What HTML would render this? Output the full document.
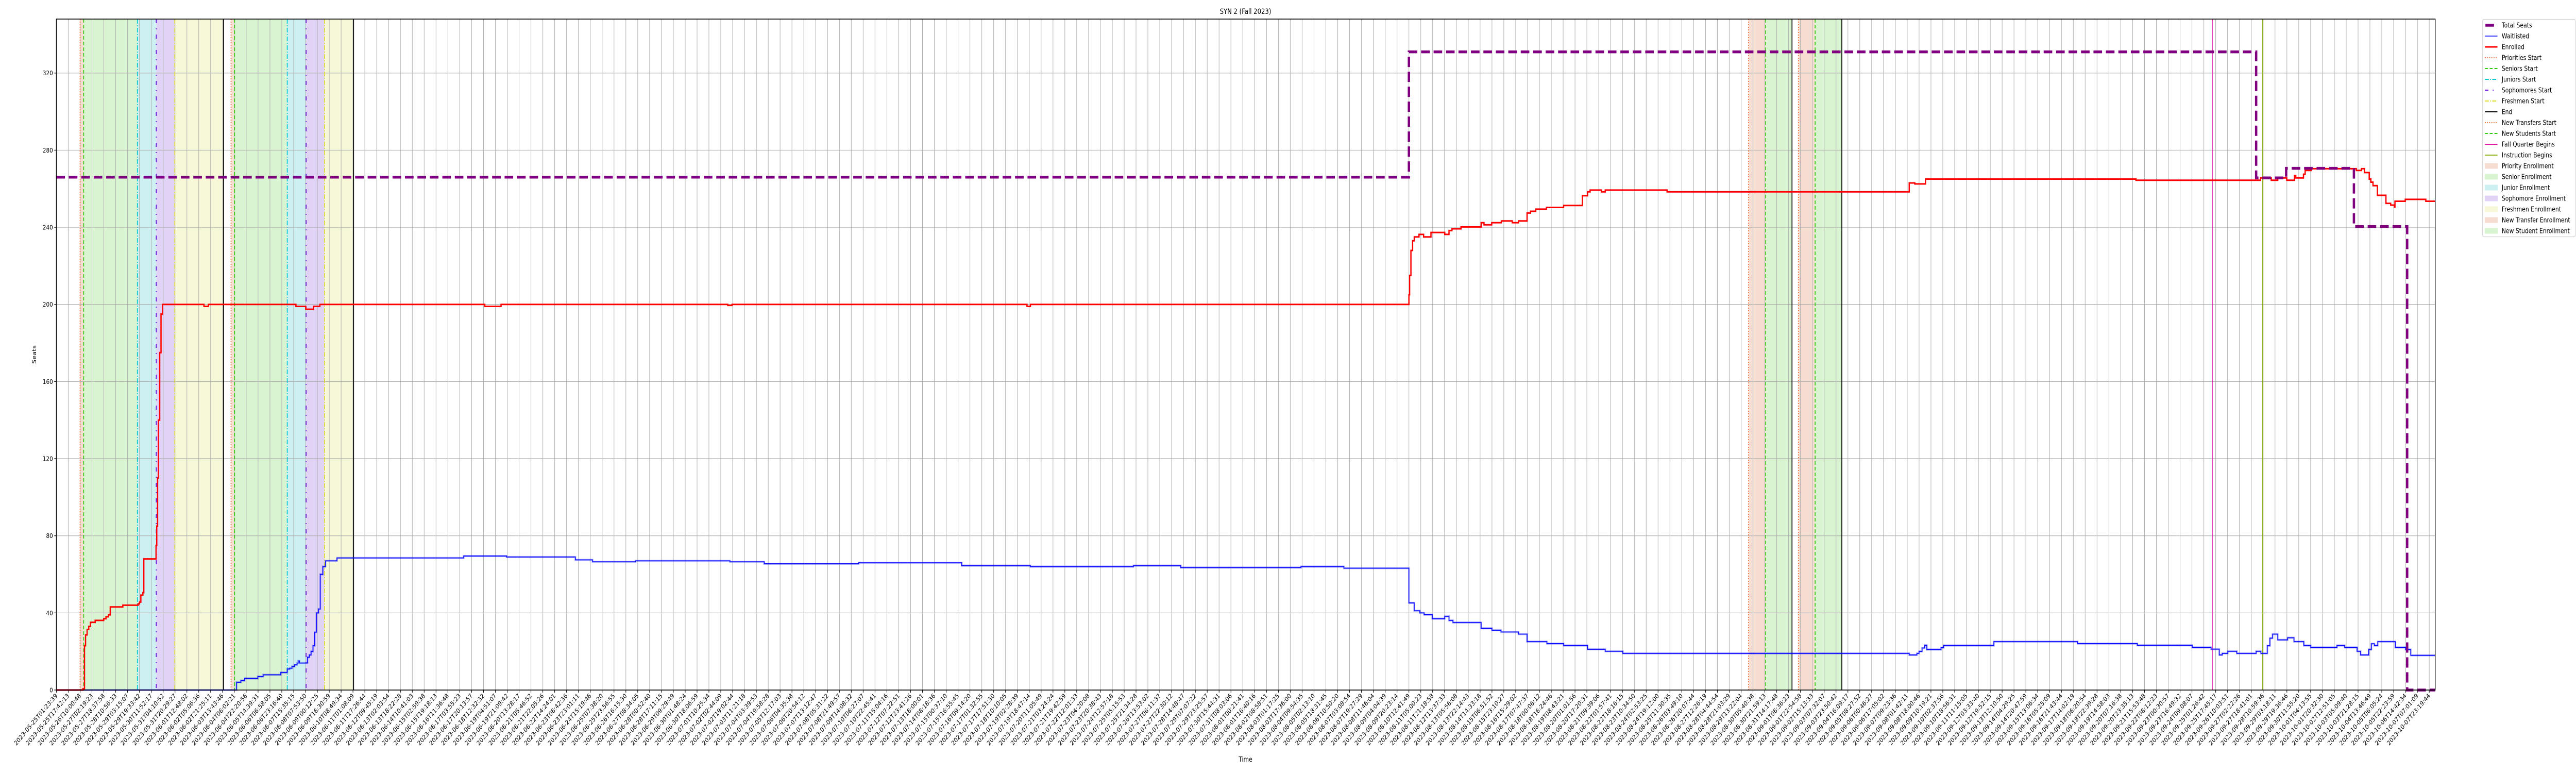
<!DOCTYPE html>
<html><head><meta charset="utf-8">
<style>
html,body{margin:0;padding:0;background:#fff;width:100%;height:100%;overflow:hidden;}
svg{display:block;width:100vw;height:100vh;font-family:"DejaVu Sans","Liberation Sans",sans-serif;}
</style></head>
<body>
<svg id="chart" xmlns="http://www.w3.org/2000/svg" viewBox="0 0 6000 1500" preserveAspectRatio="none">
<rect x="0" y="0" width="6000" height="1500" fill="#fff"/>
<g id="spans"></g>
<g id="grid"></g>
<g id="events"></g>
<g id="series"></g>
<rect x="131.3" y="37" width="5540.7" height="1302" fill="none" stroke="#000" stroke-width="1.6"/>
<g id="axes"></g>
<text x="2901" y="27" font-size="14" text-anchor="middle">SYN 2 (Fall 2023)</text>
<text x="2901" y="1478" font-size="13" text-anchor="middle">Time</text>
<text x="0" y="0" font-size="13" text-anchor="middle" transform="translate(84,688) rotate(-90)">Seats</text>
<g id="legend"></g>
</svg>
<script>
// ---- data (x in sample-index units, tick every 10 samples) ----
const seatsIdx = [0, 1140.0, 1854.1, 1879.4, 1936.5, 1981.4];
const seatsVal = [266, 331, 265.6, 270.6, 240.4, 0];

const enrolledIdx = [0,22.3,23.7,24.6,25.9,27.3,28.7,32.7,39.9,41.8,43.9,45.4,56.0,68.9,70.1,71.2,72.9,73.7,84.0,84.6,85.3,86.0,87.1,88.2,89.6,124.4,128.1,201.9,210.2,216.7,222.1,361.1,374.8,565.9,569.5,818.1,821.0,1140.0,1140.6,1141.7,1143.1,1144.5,1148.5,1152.4,1158.6,1170.2,1173.8,1176.3,1183.9,1200.9,1203.3,1209.8,1217.9,1227.1,1232.4,1239.6,1242.5,1246.9,1255.9,1270.4,1286.2,1290.6,1292.7,1302.2,1305.5,1357.6,1561.7,1566.4,1575.4,1752.8,1857.8,1866.8,1872.3,1879.9,1886.4,1887.5,1894.0,1895.4,1900.5,1938.5,1942.9,1945.4,1949.4,1950.8,1952.6,1956.3,1963.5,1967.5,1970.7,1971.1,1979.8,1997.1];
const enrolledVal = [0,0.6,23,28.6,31.4,33,35.1,36.1,37,38,39,43.1,44,44.7,45.6,49.2,50.5,68,75,85,110,140,175,195,200,199,200,199,197.5,199,200,199,200,199.5,200,199,200,205,215,228,233,235,236.3,235,237.3,236.3,238.3,239.2,240.2,242.4,241.3,242.4,243.3,242.4,243.3,247.4,248.3,249.4,250.3,251.3,256.4,258.4,259.3,258.4,259.3,258.4,263,262.5,265,264.4,265.6,264.4,265.6,264.4,266.8,265.6,267.5,269.5,270.4,269.5,270.4,268.4,265,263.4,261.6,256.6,252.4,251.5,250.5,253.5,254.5,253.5];

const waitIdx = [0,150.2,151.9,155.5,158.6,169.8,174.3,189.1,194.6,196.6,198.6,200.7,202.9,203.8,204.9,211.6,213.2,214.7,216.3,217.7,219.2,221.0,222.4,224.6,226.8,236.5,343.3,379.5,437.4,451.9,488.1,567.7,596.6,676.2,763.1,821.0,907.8,947.7,1049.0,1085.2,1140.0,1144.5,1149.2,1152.8,1159.7,1170.2,1173.8,1177.1,1200.9,1210.0,1217.6,1232.4,1239.6,1256.3,1270.4,1290.6,1305.5,1320.3,1561.7,1568.2,1570.0,1572.5,1574.7,1576.5,1588.5,1590.7,1633.0,1703.6,1753.9,1800.2,1816.1,1823.0,1825.5,1830.2,1837.8,1854.1,1858.1,1863.5,1865.7,1867.9,1872.3,1880.6,1886.0,1894.3,1900.1,1922.2,1928.7,1939.2,1942.1,1949.0,1951.2,1953.7,1956.6,1971.4,1980.1,1984.4];
const waitVal = [0,0,4.0,4.9,6.0,7.0,7.9,9.1,10.9,11.3,12.2,13.1,14.0,15.1,14,17,18.2,20,23,30,40,42,60,64,67,68.5,69.5,69,67.5,66.5,67,66.5,65.5,66,64.5,64,64.5,63.5,64,63.2,45.2,41.1,40,39.1,37,38.2,36.1,35,32,31,30.1,29,25.1,24.1,23.1,21.1,20.1,19,18.2,19,20,21.8,23.2,21,22,23.1,25.1,24.1,23.2,22.1,21.2,18.2,19,20.1,19,20.1,19,23,26.9,29,26,27.1,25.1,23.1,22.1,23.1,22.1,20.1,18.2,21,24,23.1,25.1,22.1,21,18];

const yTicks = [0,40,80,120,160,200,240,280,320];

// event lines
const eventNames = ["priorities-start","seniors-start","juniors-start","sophomores-start","freshmen-start","end",
  "priorities-start","seniors-start","juniors-start","sophomores-start","freshmen-start","end",
  "new-transfers-start","new-students-start","end","new-transfers-start","new-students-start","end",
  "fall-quarter-begins","instruction-begins"];
const eventIdx = [20.0,23.0,68.3,84.2,99.8,140.9, 147.2,150.2,194.6,210.5,226.1,250.5, 1426.3,1440.7,1462.9,1468.4,1482.4,1504.9, 1817.1,1859.6];
const eventKind = ["pri","sen","jun","soph","fresh","end","pri","sen","jun","soph","fresh","end","pri","sen","end","pri","sen","end","fall","instr"];

// shaded periods
const spanStart = [20.0,23.0,68.3,84.2,99.8, 147.2,150.2,194.6,210.5,226.1, 1426.3,1440.7,1468.4,1482.4];
const spanEnd   = [23.0,68.3,84.2,99.8,140.9, 150.2,194.6,210.5,226.1,250.5, 1440.7,1462.9,1482.4,1504.9];
const spanKind  = ["pri","sen","jun","soph","fresh","pri","sen","jun","soph","fresh","pri","sen","pri","sen"];

// tick labels: first/last; the rest estimated evenly between them
const tickCount = 201;
const tickStart = Date.UTC(2023,4,25,1,23,39);
const tickEnd = Date.UTC(2023,9,7,23,19,44);
const tickLabels = [];
for (let i=0;i<tickCount;i++){
  const d = new Date(tickStart + (tickEnd-tickStart)*i/(tickCount-1));
  const p = n=>String(n).padStart(2,'0');
  tickLabels.push(d.getUTCFullYear()+'-'+p(d.getUTCMonth()+1)+'-'+p(d.getUTCDate())+'T'+p(d.getUTCHours())+':'+p(d.getUTCMinutes())+':'+p(d.getUTCSeconds()));
}
// ---- scales ----
const X0=131.3, X1=5672, Y0=1339, Y1=37, XMAX=2005, YMAX=348;
const sx = v => X0 + v*(X1-X0)/XMAX;
const sy = v => Y0 - v*(Y0-Y1)/YMAX;
const NS="http://www.w3.org/2000/svg";
function mk(tag, attrs, parent){const e=document.createElementNS(NS,tag);for(const k in attrs)e.setAttribute(k,attrs[k]);parent.appendChild(e);return e;}

const spanColor={pri:"#f6ddd2",sen:"#d9f4d1",jun:"#cdf0f2",soph:"#e0d3f5",fresh:"#f6f8d8"};
const evStyle={
  pri:{c:"#ee6a2c",d:"2,3",w:2},
  sen:{c:"#33cc11",d:"7,4",w:2},
  jun:{c:"#00c8d2",d:"9,3,2,3",w:2},
  soph:{c:"#6a1fd8",d:"8,10,2,10",w:2.2},
  fresh:{c:"#dede22",d:"9,3,2,3",w:2},
  end:{c:"#000",d:"",w:2},
  fall:{c:"#e0189f",d:"",w:2},
  instr:{c:"#90b21e",d:"",w:2}
};

const spans=document.getElementById('spans');
for(let i=0;i<spanStart.length;i++){
  const r=mk('rect',{x:sx(spanStart[i]),y:Y1,width:sx(spanEnd[i])-sx(spanStart[i]),height:Y0-Y1,fill:spanColor[spanKind[i]]},spans);
  
  
}

const grid=document.getElementById('grid');
const axes=document.getElementById('axes');
for(let i=0;i<tickCount;i++){
  const x=sx(i*10);
  const gl=mk('line',{x1:x,x2:x,y1:Y1,y2:Y0,stroke:"#b0b0b0","stroke-width":1.2},grid);
  
  
  mk('line',{x1:x,x2:x,y1:Y0,y2:Y0+5,stroke:"#000","stroke-width":1.2},axes);
  const t=mk('text',{x:0,y:0,"font-size":12.5,"text-anchor":"end",transform:`translate(${x+3},${Y0+12}) rotate(-45)`},axes);
  t.textContent=tickLabels[i];
  
  
}
yTicks.forEach(v=>{
  const y=sy(v);
  const gl=mk('line',{x1:X0,x2:X1,y1:y,y2:y,stroke:"#b0b0b0","stroke-width":1.2},grid);
  
  
  mk('line',{x1:X0-5,x2:X0,y1:y,y2:y,stroke:"#000","stroke-width":1.2},axes);
  const t=mk('text',{x:X0-8,y:y+4.5,"font-size":12.5,"text-anchor":"end"},axes);
  t.textContent=String(v);
  
  
});

const events=document.getElementById('events');
for(let i=0;i<eventIdx.length;i++){
  const s=evStyle[eventKind[i]];const x=sx(eventIdx[i]);
  const l=mk('line',{x1:x,x2:x,y1:Y1,y2:Y0,stroke:s.c,"stroke-width":s.w},events);
  if(s.d)l.setAttribute('stroke-dasharray',s.d);
  
  
}

function stepPath(xs,ys){
  let d=`M${sx(xs[0])},${sy(ys[0])}`;
  for(let i=1;i<xs.length;i++){d+=`L${sx(xs[i])},${sy(ys[i-1])}L${sx(xs[i])},${sy(ys[i])}`;}
  d+=`L${sx(XMAX)},${sy(ys[ys.length-1])}`;
  return d;
}
const series=document.getElementById('series');
const wh=mk('path',{d:stepPath(waitIdx,waitVal),fill:"none",stroke:"#0000ff","stroke-opacity":0.3,"stroke-width":4,"stroke-linejoin":"miter"},series);


const wl=mk('path',{d:stepPath(waitIdx,waitVal),fill:"none",stroke:"#0000ff","stroke-width":1.6},series);


const el=mk('path',{d:stepPath(enrolledIdx,enrolledVal),fill:"none",stroke:"#ff0000","stroke-width":3},series);


const sl=mk('path',{d:stepPath(seatsIdx,seatsVal),fill:"none",stroke:"#800080","stroke-width":5.5,"stroke-dasharray":"20,9"},series);



// legend
const legend=document.getElementById('legend');
const lb=mk('rect',{x:5782.5,y:37.5,width:216,height:422,fill:"#fff",stroke:"#d0d0d0","stroke-width":1.2,rx:3},legend);


const legLabels=["Total Seats","Waitlisted","Enrolled","Priorities Start","Seniors Start","Juniors Start","Sophomores Start","Freshmen Start","End","New Transfers Start","New Students Start","Fall Quarter Begins","Instruction Begins","Priority Enrollment","Senior Enrollment","Junior Enrollment","Sophomore Enrollment","Freshmen Enrollment","New Transfer Enrollment","New Student Enrollment"];
const legKind=["seats","wait","enr","pri","sen","jun","soph","fresh","end","pri","sen","fall","instr","spri","ssen","sjun","ssoph","sfresh","spri","ssen"];
for(let i=0;i<legLabels.length;i++){
  const y=49+i*21;const k=legKind[i];
  let h;
  if(k==="seats")h=mk('line',{x1:5789,x2:5809,y1:y,y2:y,stroke:"#800080","stroke-width":5.5},legend);
  else if(k==="wait")h=mk('line',{x1:5788,x2:5817,y1:y,y2:y,stroke:"#0000ff","stroke-width":1.6},legend);
  else if(k==="enr")h=mk('line',{x1:5788,x2:5817,y1:y,y2:y,stroke:"#ff0000","stroke-width":3},legend);
  else if(k[0]==="s"&&k!=="sen"&&k!=="soph"){
    const c=spanColor[k.slice(1)];
    h=mk('rect',{x:5788,y:y-5,width:29,height:10,fill:c,stroke:c,"stroke-width":1},legend);
  } else {
    const s=evStyle[k];
    h=mk('line',{x1:5788,x2:5817,y1:y,y2:y,stroke:s.c,"stroke-width":s.w},legend);
    if(s.d)h.setAttribute('stroke-dasharray',s.d);
  }
  
  
  const t=mk('text',{x:5827,y:y+4.5,"font-size":13},legend);
  t.textContent=legLabels[i];
  
  
}
</script>
</body></html>
